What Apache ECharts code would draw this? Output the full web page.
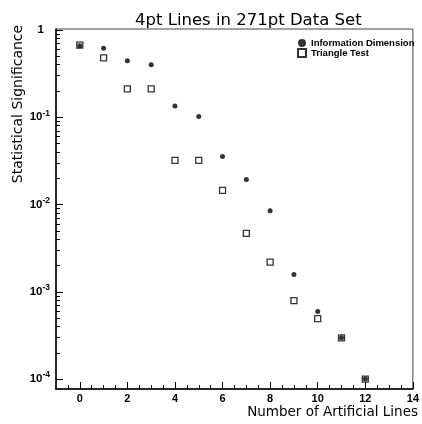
<!DOCTYPE html>
<html>
<head>
<meta charset="utf-8">
<script src="https://cdn.jsdelivr.net/npm/echarts@6/dist/echarts.min.js"></script>
<style>
  html, body { margin: 0; padding: 0; background: #fff; }
  #chart { width: 422px; height: 424px; }
</style>
</head>
<body>
<div id="chart"></div>
<script>
// number of artificial lines
const lineCounts = [0, 1, 2, 3, 4, 5, 6, 7, 8, 9, 10, 11, 12]
// statistical significance
const infoDimension = [0.66, 0.62, 0.445, 0.40, 0.135, 0.102, 0.0356, 0.0194, 0.00848, 0.00158, 0.000593, 0.000297, 0.0001]
const triangleTest = [0.67, 0.48, 0.212, 0.212, 0.0321, 0.0321, 0.0145, 0.00466, 0.00219, 0.00079, 0.000493, 0.000297, 0.0001]

const xMajorTicks = [0, 2, 4, 6, 8, 10, 12, 14]
const xMinorTicks = [-0.5, 0.5, 1, 1.5, 2.5, 3, 3.5, 4.5, 5, 5.5, 6.5, 7, 7.5, 8.5, 9, 9.5, 10.5, 11, 11.5, 12.5, 13, 13.5]
const yMajorTicks = [1e-4, 1e-3, 1e-2, 1e-1, 1]
const yMinorTicks = []
yMajorTicks.slice(0, 4).forEach(d => {
  for (let m = 2; m <= 9; m++) yMinorTicks.push(+(d * m).toPrecision(3))
})

const chart = echarts.init(document.getElementById('chart'))
const font = 'Liberation Sans'
const titleFont = 'DejaVu Sans'
const yMin = 7.69e-5
const yMax = 1.027

function yLabel(v) {
  const e = Math.round(Math.log10(v))
  if (e === 0) return '{one|1}'
  return '{b|10}{sup|' + e + '}'
}

chart.setOption({
  backgroundColor: '#fff',
  animation: false,
  title: {
    text: '4pt Lines in 271pt Data Set',
    left: 130,
    top: 7,
    textStyle: { fontFamily: titleFont, fontSize: 16.5, fontWeight: 'normal', color: '#000' }
  },
  legend: {
    orient: 'vertical',
    left: 292,
    top: 33,
    itemWidth: 8,
    itemHeight: 8,
    itemGap: 0,
    textStyle: { fontFamily: font, fontSize: 9.5, fontWeight: 'bold', color: '#000' },
    data: ['Information Dimension', 'Triangle Test']
  },
  grid: {
    left: 56, right: 3, top: 29, bottom: 35,
    show: true, borderColor: '#444', borderWidth: 1
  },
  graphic: [
    {
      type: 'text',
      x: 18, y: 104,
      rotation: Math.PI / 2,
      style: { text: 'Statistical Significance', fontFamily: titleFont, fontSize: 14, fill: '#000', align: 'center', verticalAlign: 'middle' }
    },
    {
      type: 'text',
      right: 4, top: 405,
      style: { text: 'Number of Artificial Lines', fontFamily: titleFont, fontSize: 13.5, fill: '#000' }
    }
  ],
  xAxis: [
    {
      type: 'value', min: -1, max: 14, position: 'bottom',
      axisLine: { onZero: false, lineStyle: { color: '#000', width: 1.5 } },
      axisTick: { inside: true, length: 7, customValues: xMajorTicks, lineStyle: { color: '#000' } },
      axisLabel: { customValues: xMajorTicks, margin: 4, fontFamily: font, fontSize: 11, fontWeight: 'bold', color: '#000' },
      splitLine: { show: false }
    },
    {
      type: 'value', min: -1, max: 14, position: 'bottom',
      axisLine: { show: false, onZero: false },
      axisTick: { inside: true, length: 4, customValues: xMinorTicks, lineStyle: { color: '#000' } },
      axisLabel: { show: false },
      splitLine: { show: false }
    }
  ],
  yAxis: [
    {
      type: 'log', logBase: 10, min: yMin, max: yMax, position: 'left',
      axisLine: { show: true, onZero: false, lineStyle: { color: '#000', width: 1.5 } },
      axisTick: { inside: true, length: 7, customValues: yMajorTicks, lineStyle: { color: '#000' } },
      axisLabel: {
        customValues: yMajorTicks,
        margin: 6,
        formatter: yLabel,
        rich: {
          b: { fontFamily: font, fontSize: 11.5, fontWeight: 'bold', color: '#000' },
          one: { fontFamily: font, fontSize: 11.5, fontWeight: 'bold', color: '#000', padding: [0, 6, 0, 0] },
          sup: { fontFamily: font, fontSize: 8.5, fontWeight: 'bold', color: '#000', padding: [0, 0, 8, 0] }
        }
      },
      splitLine: { show: false }
    },
    {
      type: 'log', logBase: 10, min: yMin, max: yMax, position: 'left',
      axisLine: { show: false, onZero: false },
      axisTick: { inside: true, length: 4, customValues: yMinorTicks, lineStyle: { color: '#000' } },
      axisLabel: { show: false },
      splitLine: { show: false }
    }
  ],
  series: [
    {
      name: 'Triangle Test',
      type: 'scatter',
      symbol: 'rect',
      symbolSize: 6,
      itemStyle: { color: '#fff', borderColor: '#000', borderWidth: 1.3 },
      data: lineCounts.map((x, i) => [x, triangleTest[i]])
    },
    {
      name: 'Information Dimension',
      type: 'scatter',
      symbol: 'circle',
      symbolSize: 5,
      itemStyle: { color: '#000' },
      data: lineCounts.map((x, i) => [x, infoDimension[i]])
    }
  ]
})
</script>
</body>
</html>
